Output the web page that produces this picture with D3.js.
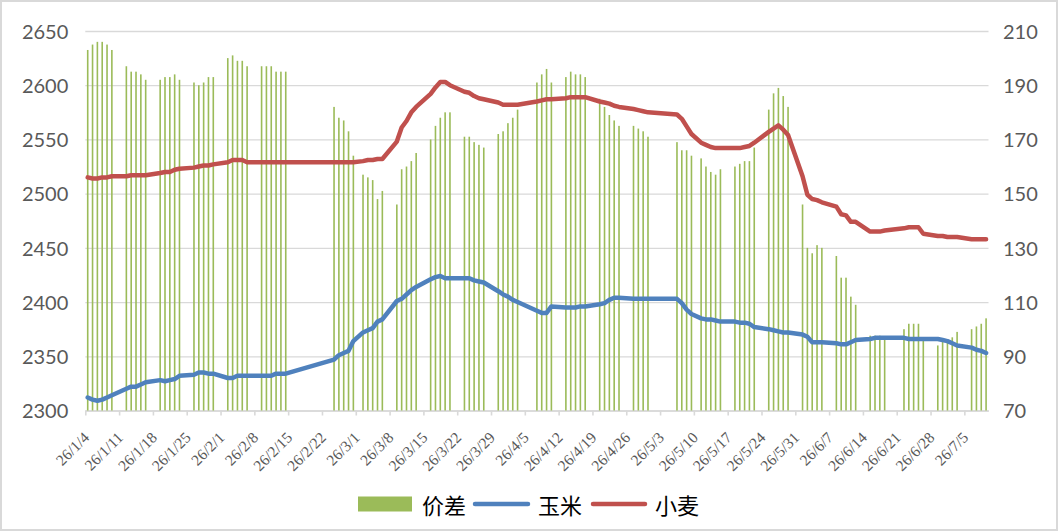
<!DOCTYPE html>
<html lang="zh">
<head>
<meta charset="UTF-8">
<script src="https://d3js.org/d3.v7.min.js"></script>
<title>玉米 小麦 价差</title>
<style>
  body { margin: 0; background: #fff; }
</style>
</head>
<body>
<script>
// trading days (2026), one entry per bar / line point
var days = [
  "1/4","1/5","1/6","1/7","1/8","1/9",
  "1/12","1/13","1/14","1/15","1/16",
  "1/19","1/20","1/21","1/22","1/23",
  "1/26","1/27","1/28","1/29","1/30",
  "2/2","2/3","2/4","2/5","2/6",
  "2/9","2/10","2/11","2/12","2/13","2/14",
  "2/24","2/25","2/26","2/27","2/28",
  "3/2","3/3","3/4","3/5","3/6",
  "3/9","3/10","3/11","3/12","3/13",
  "3/16","3/17","3/18","3/19","3/20",
  "3/23","3/24","3/25","3/26","3/27",
  "3/30","3/31","4/1","4/2","4/3",
  "4/7","4/8","4/9","4/10",
  "4/13","4/14","4/15","4/16","4/17",
  "4/20","4/21","4/22","4/23","4/24",
  "4/27","4/28","4/29","4/30",
  "5/6","5/7","5/8","5/9",
  "5/11","5/12","5/13","5/14","5/15",
  "5/18","5/19","5/20","5/21","5/22",
  "5/25","5/26","5/27","5/28","5/29",
  "6/1","6/2","6/3","6/4","6/5",
  "6/8","6/9","6/10","6/11","6/12",
  "6/15","6/16","6/17","6/18",
  "6/22","6/23","6/24","6/25","6/26",
  "6/29","6/30","7/1","7/2","7/3",
  "7/6","7/7","7/8","7/9"
];

// 价差 (right axis)
var spread = [
  203,205,206,206,205,203,
  197,195,195,194,192,
  192,193,193,194,192,
  191,190,191,193,193,
  200,201,199,199,197,
  197,197,197,195,195,195,
  182,178,177,173,164,
  157,156,155,148,151,
  146,159,160,162,165,
  170,175,178,180,180,
  171,171,169,168,167,
  172,173,176,178,181,
  191,194,196,191,
  193,195,194,194,193,
  185,182,179,177,175,
  175,174,173,171,
  169,166,166,164,
  163,160,158,157,159,
  160,161,162,162,167,
  181,187,189,186,182,
  146,130,128,131,130,
  127,119,119,112,109,
  97.6,97.6,97.6,96.5,
  100,102,102,102,96.5,
  94,95.4,95.4,97,99,
  100,101,102,104
];

// 玉米 (left axis)
var corn = [
  2312,2310,2309,2310,2312,2314,
  2320,2322,2322,2324,2326,
  2328,2327,2328,2329,2332,
  2333,2335,2335,2334,2334,
  2330,2330,2332,2332,2332,
  2332,2332,2332,2334,2334,2334,
  2347,2351,2353,2355,2364,
  2372,2374,2376,2382,2384,
  2401,2403,2407,2411,2414,
  2421,2423,2424,2422,2422,
  2422,2422,2420,2419,2418,
  2410,2407,2405,2402,2400,
  2392,2390,2390,2396,
  2395,2395,2395,2396,2396,
  2398,2399,2402,2404,2404,
  2403,2403,2403,2403,
  2403,2399,2393,2389,
  2385,2384,2384,2383,2382,
  2382,2381,2381,2380,2377,
  2375,2374,2373,2372,2372,
  2370,2368,2363,2363,2363,
  2362,2361,2361,2363,2365,
  2366,2367,2367,2367,
  2367,2366,2366,2366,2366,
  2366,2365,2364,2362,2360,
  2358,2356,2355,2353
];

// 小麦 (left axis)
var wheat = [
  2515,2514,2514,2515,2515,2516,
  2516,2517,2517,2517,2517,
  2519,2520,2520,2522,2523,
  2524,2525,2526,2526,2527,
  2529,2531,2531,2531,2529,
  2529,2529,2529,2529,2529,2529,
  2529,2529,2529,2529,2529,
  2530,2531,2531,2532,2532,
  2548,2561,2567,2575,2580,
  2592,2598,2603,2603,2600,
  2594,2593,2590,2588,2587,
  2584,2582,2582,2582,2582,
  2585,2586,2587,2587,
  2588,2589,2589,2589,2589,
  2585,2584,2583,2581,2580,
  2578,2577,2576,2575,
  2573,2569,2562,2555,
  2547,2545,2543,2542,2542,
  2542,2542,2543,2544,2547,
  2557,2560,2563,2559,2554,
  2516,2499,2495,2494,2492,
  2488,2481,2480,2474,2474,
  2465,2465,2465,2466,
  2468,2469,2469,2469,2463,
  2461,2461,2460,2460,2460,
  2458,2458,2458,2458
];

var tickLabels = [
  "26/1/4","26/1/11","26/1/18","26/1/25","26/2/1","26/2/8","26/2/15",
  "26/2/22","26/3/1","26/3/8","26/3/15","26/3/22","26/3/29","26/4/5",
  "26/4/12","26/4/19","26/4/26","26/5/3","26/5/10","26/5/17","26/5/24",
  "26/5/31","26/6/7","26/6/14","26/6/21","26/6/28","26/7/5"
];
var leftTicks = [2300,2350,2400,2450,2500,2550,2600,2650];
var rightTicks = [70,90,110,130,150,170,190,210];

var width = 1061, height = 532;
var plotL = 85.3, plotR = 988.5, plotT = 31, plotB = 410.5;
var gridColor = "#d9d9d9", textColor = "#595959";
var numFont = "Lato, 'Open Sans', sans-serif";

var parse = d3.utcParse("%y/%m/%d");
var rows = days.map(function(d, i) {
  return {
    date: d3.utcHour.offset(parse("26/" + d), 12),
    spread: spread[i], corn: corn[i], wheat: wheat[i]
  };
});
var lastDay = parse("26/" + days[days.length - 1]);

var x = d3.scaleUtc()
    .domain([parse(tickLabels[0]), d3.utcDay.offset(lastDay, 1)])
    .range([plotL, plotR]);
var yL = d3.scaleLinear().domain([2300, 2650]).range([plotB, plotT]);
var yR = d3.scaleLinear().domain([70, 210]).range([plotB, plotT]);

var svg = d3.select("body").append("svg")
    .attr("width", width)
    .attr("height", height);

// chart border
svg.append("rect")
    .attr("x", 1).attr("y", 1)
    .attr("width", 1056).attr("height", 529)
    .attr("fill", "#fff")
    .attr("stroke", gridColor)
    .attr("stroke-width", 2);

// left axis with gridlines
var gLeft = svg.append("g")
    .attr("transform", "translate(" + plotL + ",0)")
    .call(d3.axisLeft(yL).tickValues(leftTicks)
        .tickFormat(d3.format("d"))
        .tickSize(-(plotR - plotL)).tickPadding(17));
gLeft.select(".domain").remove();
gLeft.selectAll("line").attr("stroke", gridColor).attr("stroke-width", 1.3);
gLeft.selectAll("text")
    .attr("dy", "0.36em")
    .attr("fill", textColor)
    .style("font-family", numFont)
    .style("font-size", "20px");

// right axis (labels only)
var gRight = svg.append("g")
    .attr("transform", "translate(" + plotR + ",0)")
    .call(d3.axisRight(yR).tickValues(rightTicks).tickSize(0).tickPadding(14.5));
gRight.select(".domain").remove();
gRight.selectAll("text")
    .attr("dy", "0.36em")
    .attr("fill", textColor)
    .style("font-family", numFont)
    .style("font-size", "20px");

// bottom axis
var gBottom = svg.append("g")
    .attr("transform", "translate(0," + plotB + ")")
    .call(d3.axisBottom(x)
        .tickValues(tickLabels.map(parse))
        .tickFormat(function(d, i) { return tickLabels[i]; })
        .tickSizeInner(5).tickSizeOuter(0));
gBottom.select(".domain").attr("stroke", gridColor).attr("stroke-width", 1.6);
gBottom.selectAll("line").attr("stroke", gridColor).attr("stroke-width", 1.6);
gBottom.selectAll("text")
    .attr("x", 0).attr("y", 0).attr("dy", 0)
    .attr("text-anchor", "end")
    .attr("transform", "translate(4.5,28) rotate(-45)")
    .attr("fill", textColor)
    .style("font-family", "'Liberation Serif', 'DejaVu Serif', serif")
    .style("font-size", "15.5px");

// spread bars
svg.append("g").selectAll("rect")
    .data(rows)
    .enter()
    .append("rect")
    .attr("x", function(d) { return x(d.date) - 0.8; })
    .attr("width", 1.6)
    .attr("y", function(d) { return yR(d.spread); })
    .attr("height", function(d) { return plotB - yR(d.spread); })
    .attr("fill", "#9bbb59");

// price lines
var series = [
  { key: "corn", color: "#4f81bd" },
  { key: "wheat", color: "#c0504d" }
];
series.forEach(function(s) {
  var line = d3.line()
      .x(function(d) { return x(d.date); })
      .y(function(d) { return yL(d[s.key]); });
  svg.append("path")
      .datum(rows)
      .attr("d", line)
      .attr("fill", "none")
      .attr("stroke", s.color)
      .attr("stroke-width", 4.5)
      .attr("stroke-linejoin", "round")
      .attr("stroke-linecap", "round");
});

// legend
var legendY = 504;
var legend = svg.append("g").style("font-family", "'Noto Sans CJK SC', sans-serif");
legend.append("rect")
    .attr("x", 358).attr("y", legendY - 7.5)
    .attr("width", 54).attr("height", 15)
    .attr("fill", "#9bbb59");
legend.append("text").attr("x", 422).attr("y", legendY).text("价差");
legend.append("line")
    .attr("x1", 475).attr("x2", 528).attr("y1", legendY).attr("y2", legendY)
    .attr("stroke", "#4f81bd").attr("stroke-width", 4.5).attr("stroke-linecap", "round");
legend.append("text").attr("x", 538).attr("y", legendY).text("玉米");
legend.append("line")
    .attr("x1", 593).attr("x2", 645).attr("y1", legendY).attr("y2", legendY)
    .attr("stroke", "#c0504d").attr("stroke-width", 4.5).attr("stroke-linecap", "round");
legend.append("text").attr("x", 655).attr("y", legendY).text("小麦");
legend.selectAll("text")
    .attr("dominant-baseline", "central")
    .attr("fill", "#000")
    .style("font-size", "22px");
</script>
</body>
</html>
